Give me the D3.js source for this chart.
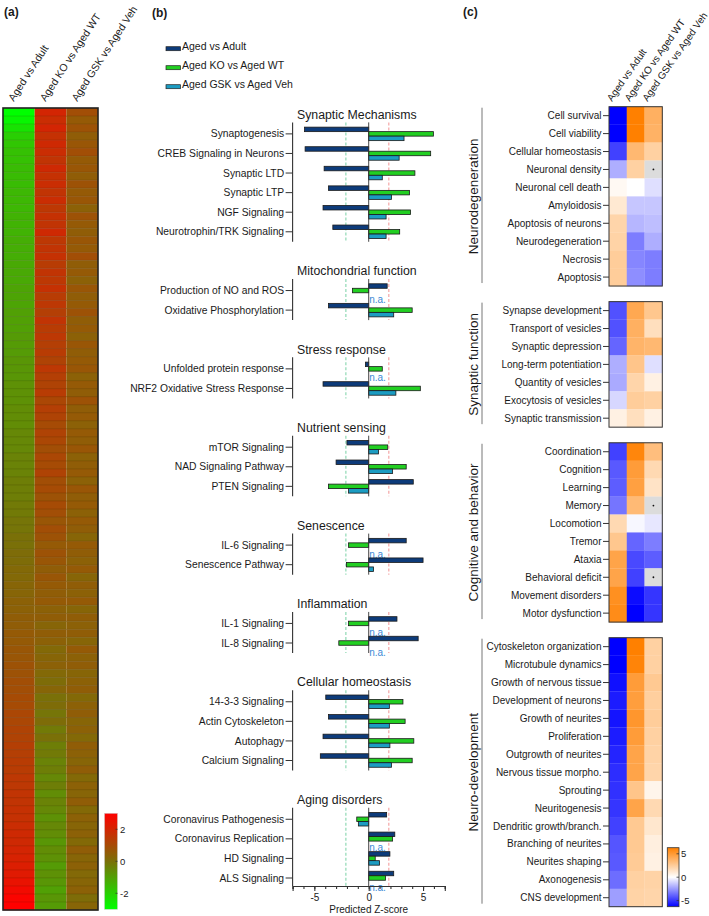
<!DOCTYPE html>
<html><head><meta charset="utf-8">
<script src="https://cdn.jsdelivr.net/npm/d3@7"></script>
<style>
body{margin:0;background:#fff;}
svg text{font-family:"Liberation Sans",Arial,Helvetica,sans-serif;fill:#1a1a1a;}
</style>
</head><body>
<svg id="chart" width="709" height="916"></svg>
<script>
// ================= DATA =================
// Panel (a): sorted heatmap of pathway z-scores (one value per row)
const aColumns = ["Aged vs Adult","Aged KO vs Aged WT","Aged GSK vs Aged Veh"];
const aAgedVsAdult = [
 -3.0,-2.8,-2.4,-2.0,-1.8,-1.7,-1.7,-1.6,-1.6,-1.6,
 -1.5,-1.5,-1.5,-1.4,-1.4,-1.4,-1.3,-1.3,-1.3,-1.2,
 -1.2,-1.2,-1.1,-1.1,-1.1,-1.0,-1.0,-1.0,-0.9,-0.9,
 -0.9,-0.8,-0.8,-0.8,-0.7,-0.7,-0.7,-0.6,-0.6,-0.6,
 -0.5,-0.5,-0.5,-0.4,-0.4,-0.4,-0.3,-0.3,-0.3,-0.2,
 -0.2,-0.1,-0.1,0.0,0.0,0.1,0.1,0.2,0.2,0.3,
 0.3,0.4,0.4,0.5,0.5,0.6,0.6,0.7,0.7,0.8,
 0.8,0.9,0.9,1.0,1.0,1.1,1.1,1.2,1.2,1.3,
 1.3,1.4,1.4,1.5,1.5,1.6,1.6,1.7,1.7,1.8,
 1.9,1.9,2.0,2.1,2.2,2.3,2.5,2.7,2.9,3.0];
const aKOvsWT = [
 2.0,1.8,2.0,1.7,1.9,1.8,1.6,1.9,1.7,1.8,
 1.6,1.8,1.5,1.7,1.6,1.9,1.5,1.6,1.7,1.4,
 1.6,1.5,1.7,1.4,1.5,1.3,1.6,1.4,1.5,1.3,
 1.4,1.2,1.5,1.3,1.2,1.4,1.1,1.3,1.2,1.0,
 1.2,1.1,0.9,1.1,1.0,1.2,0.9,1.0,0.8,1.0,
 0.9,0.7,0.9,0.8,0.6,0.8,0.7,0.5,0.7,0.6,
 0.5,0.6,0.4,0.5,0.3,0.5,0.4,0.2,0.3,0.4,
 0.2,0.1,0.3,0.0,0.1,-0.1,0.1,-0.2,0.0,-0.3,
 -0.2,-0.4,-0.3,-0.5,-0.3,-0.6,-0.4,-0.5,-0.7,-0.5,
 -0.6,-0.8,-0.6,-0.7,-0.9,-0.7,-0.8,-1.0,-0.8,-0.9];
const aGSKvsVeh = [
 0.9,0.6,0.8,0.5,0.7,0.9,0.6,0.7,0.5,0.8,
 0.6,0.7,0.4,0.8,0.6,0.5,0.7,0.6,0.9,0.5,
 0.6,0.4,0.7,0.5,0.6,0.8,0.5,0.6,0.4,0.7,
 0.5,0.6,0.7,0.4,0.6,0.5,0.8,0.5,0.6,0.4,
 0.6,0.5,0.7,0.4,0.5,0.6,0.4,0.7,0.5,0.6,
 0.4,0.6,0.5,0.3,0.6,0.5,0.4,0.6,0.3,0.5,
 0.4,0.6,0.3,0.5,0.4,0.5,0.3,0.6,0.4,0.5,
 0.3,0.4,0.5,0.2,0.4,0.5,0.3,0.4,0.2,0.5,
 0.4,0.3,0.5,0.2,0.4,0.3,0.5,0.2,0.4,0.3,
 0.4,0.2,0.5,0.3,0.4,0.2,0.3,0.4,0.1,0.3];
const aColorTicks = [2, 0, -2];

// Panel (b): predicted z-scores of canonical pathways
const bSeries = ["Aged vs Adult","Aged KO vs Aged WT","Aged GSK vs Aged Veh"];
const bSections = ["Synaptic Mechanisms","Mitochondrial function","Stress response","Nutrient sensing",
  "Senescence","Inflammation","Cellular homeostasis","Aging disorders"];
const bPathways = ["Synaptogenesis","CREB Signaling in Neurons","Synaptic LTD","Synaptic LTP","NGF Signaling",
  "Neurotrophin/TRK Signaling","Production of NO and ROS","Oxidative Phosphorylation","Unfolded protein response",
  "NRF2 Oxidative Stress Response","mTOR Signaling","NAD Signaling Pathway","PTEN Signaling","IL-6 Signaling",
  "Senescence Pathway","IL-1 Signaling","IL-8 Signaling","14-3-3 Signaling","Actin Cytoskeleton","Autophagy",
  "Calcium Signaling","Coronavirus Pathogenesis","Coronavirus Replication","HD Signaling","ALS Signaling"];
const bSectionOf = [0,0,0,0,0,0,1,1,2,2,3,3,3,4,4,5,5,6,6,6,6,7,7,7,7];
const bAgedVsAdult = [-5.9,-5.85,-4.1,-3.7,-4.2,-3.3, 1.7,-3.7, -0.3,-4.2, -2.0,-3.0,4.1, 3.45,5.0,
  2.6,4.55, -3.95,-3.7,-4.2,-4.45, 1.65,2.4,1.95,2.3];
const bKOvsWT = [5.95,5.7,4.25,3.75,3.85,2.85, -1.5,4.0, 1.25,4.75, 1.75,3.45,-3.7, -1.85,-2.05,
  -1.85,-2.75, 3.15,3.35,4.15,4.0, -1.1,2.2,0.6,1.55];
const bGSKvsVeh = [3.25,2.8,1.25,2.1,1.6,1.6, null,2.3, null,2.5, 0.9,2.2,-1.85, null,0.45,
  null,null, 1.9,1.9,1.95,2.1, -0.95,null,1.0,null];
const bThresholds = [-2.1, 1.85];
const bMajorTicks = [-5, 0, 5];
const bMinorTicks = [-7,-6,-5,-4,-3,-2,-1,0,1,2,3,4,5,6,7];

// Panel (c): predicted activation of diseases & functions
const cColumns = ["Aged vs Adult","Aged KO vs Aged WT","Aged GSK vs Aged Veh"];
const cGroups = ["Neurodegeneration","Synaptic function","Cognitive and behavior","Neuro-development"];
const cFunctions = ["Cell survival","Cell viability","Cellular homeostasis","Neuronal density","Neuronal cell death",
  "Amyloidosis","Apoptosis of neurons","Neurodegeneration","Necrosis","Apoptosis",
  "Synapse development","Transport of vesicles","Synaptic depression","Long-term potentiation",
  "Quantity of vesicles","Exocytosis of vesicles","Synaptic transmission",
  "Coordination","Cognition","Learning","Memory","Locomotion","Tremor","Ataxia","Behavioral deficit",
  "Movement disorders","Motor dysfunction",
  "Cytoskeleton organization","Microtubule dynamics","Growth of nervous tissue","Development of neurons",
  "Growth of neurites","Proliferation","Outgrowth of neurites","Nervous tissue morpho.","Sprouting",
  "Neuritogenesis","Dendritic growth/branch.","Branching of neurites","Neurites shaping","Axonogenesis",
  "CNS development"];
const cGroupOf = [0,0,0,0,0,0,0,0,0,0, 1,1,1,1,1,1,1, 2,2,2,2,2,2,2,2,2,2,
  3,3,3,3,3,3,3,3,3,3,3,3,3,3,3];
const cAgedVsAdult = [-6.3,-6.3,-4.7,-2.0,0.3,1.1,2.1,2.2,2.5,2.5,
  -4.3,-4.3,-3.8,-2.0,-2.1,-1.0,0.7,
  -4.7,-4.1,-4.0,-3.4,1.9,2.8,4.5,4.5,5.5,5.7,
  -6.3,-6.3,-5.9,-5.6,-5.8,-5.6,-5.4,-5.2,-5.1,-5.0,-4.7,-4.2,-4.1,-3.6,-2.4];
const cKOvsWT = [6.3,6.3,3.5,2.3,0.0,-1.4,-1.8,-3.2,-3.0,-2.8,
  4.3,3.9,3.7,2.9,2.1,2.5,1.6,
  6.0,4.9,4.7,3.4,-0.2,-3.8,-4.5,-4.7,-6.0,-6.3,
  6.3,6.1,4.9,4.8,5.2,4.9,4.5,4.5,2.9,4.5,2.7,2.7,2.6,2.3,2.2];
const cGSKvsVeh = [3.9,3.8,2.3,null,-0.8,-1.4,-1.6,-2.0,-3.2,-3.2,
  2.8,1.6,3.5,-0.8,0.7,2.3,0.7,
  3.2,1.9,1.4,null,-0.6,-3.2,-4.0,null,-5.0,-5.0,
  2.3,2.3,2.7,2.4,2.5,2.3,2.2,2.1,0.5,1.9,1.2,0.8,0.7,2.2,2.1];
const cColorTicks = [5, 0, -5];

// ================= DRAWING =================
const svg = d3.select("#chart");
const defs = svg.append("defs");

// panel letters
[["(a)",4,16],["(b)",152,17],["(c)",463,16]].forEach(([t,x,y]) =>
  svg.append("text").attr("x",x).attr("y",y).attr("font-size","12px").attr("font-weight","bold").text(t));

// ---------- Panel (a)
const aX = d3.scaleBand().domain(aColumns).range([3, 98]);
const aY = d3.scaleBand().domain(d3.range(aAgedVsAdult.length)).range([108, 910]);
const aColor = d3.scaleLinear().domain([-3, 0, 3]).range(["#00ff00", "#7a7008", "#ff0000"]).clamp(true);
const gA = svg.append("g");
[aAgedVsAdult, aKOvsWT, aGSKvsVeh].forEach((vals, ci) => {
  gA.append("g").selectAll("rect").data(vals).join("rect")
    .attr("x", aX(aColumns[ci])).attr("width", aX.bandwidth())
    .attr("y", (d, i) => aY(i)).attr("height", aY.bandwidth() + 0.3)
    .attr("fill", d => aColor(d));
});
gA.append("g").selectAll("line").data(d3.range(1, aAgedVsAdult.length)).join("line")
  .attr("x1", 3).attr("x2", 98).attr("y1", i => aY(i)).attr("y2", i => aY(i))
  .attr("stroke", "rgba(40,30,0,0.22)").attr("stroke-width", 0.7);
gA.append("rect").attr("x", 3).attr("y", 108).attr("width", 95).attr("height", 802)
  .attr("fill", "none").attr("stroke", "#222").attr("stroke-width", 1.6);
gA.append("g").selectAll("text").data(aColumns).join("text")
  .attr("transform", d => `translate(${aX(d) + aX.bandwidth() / 2 - 5},102) rotate(-57)`)
  .attr("font-size", "10.5px").text(d => d);
// colorbar (a)
const aCbY = d3.scaleLinear().domain([-3, 3]).range([909.3, 813.3]);
const gradA = defs.append("linearGradient").attr("id", "gradA").attr("x1", 0).attr("y1", 1).attr("x2", 0).attr("y2", 0);
aColor.domain().forEach((v, i) => gradA.append("stop").attr("offset", (v + 3) / 6).attr("stop-color", aColor.range()[i]));
svg.append("rect").attr("x", 104.5).attr("y", aCbY(3)).attr("width", 13).attr("height", aCbY(-3) - aCbY(3))
  .attr("fill", "url(#gradA)").attr("stroke", "#ccc").attr("stroke-width", 0.5);
const gCbA = svg.append("g");
gCbA.selectAll("line").data(aColorTicks).join("line")
  .attr("x1", 115.5).attr("x2", 117.5).attr("y1", d => aCbY(d)).attr("y2", d => aCbY(d))
  .attr("stroke", "#333").attr("stroke-width", 0.8);
gCbA.selectAll("text").data(aColorTicks).join("text")
  .attr("x", 120).attr("y", d => aCbY(d)).attr("dy", "0.35em").attr("font-size", "9.5px").text(d => d);

// ---------- Panel (b)
const bColors = ["#0d3b7a", "#22cf22", "#1c9cc2"];
const legY = d3.scalePoint().domain(bSeries).range([50, 88]);
const gLeg = svg.append("g");
bSeries.forEach((s, k) => {
  gLeg.append("rect").attr("x", 166).attr("y", legY(s) - 3.3).attr("width", 14.5).attr("height", 4)
    .attr("fill", bColors[k]).attr("stroke", "#222").attr("stroke-width", 0.7);
  gLeg.append("text").attr("x", 182).attr("y", legY(s)).attr("font-size", "10.5px").text(s);
});

const xB = d3.scaleLinear().domain([-7, 7]).range([292.6, 444.8]);
const slots = [];
bSections.forEach((s, si) => {
  slots.push({ kind: "title", si });
  bPathways.forEach((p, pi) => { if (bSectionOf[pi] === si) slots.push({ kind: "cat", si, pi }); });
  if (si < bSections.length - 1) slots.push({ kind: "gap", si });
});
const yB = d3.scalePoint().domain(d3.range(slots.length)).range([114.3, 878]);
slots.forEach((s, i) => s.y = yB(i));
const axisYB = yB(slots.length - 1) + 8;
const bVals = [bAgedVsAdult, bKOvsWT, bGSKvsVeh];
const barH = 4.5;
const gB = svg.append("g");

bSections.forEach((sec, si) => {
  const title = slots.find(s => s.kind === "title" && s.si === si);
  const cats = slots.filter(s => s.kind === "cat" && s.si === si);
  const top = cats[0].y - 11.5;
  const bottom = si === bSections.length - 1 ? axisYB : cats[cats.length - 1].y + 10;
  const g = gB.append("g");
  g.append("text").attr("x", 297).attr("y", title.y).attr("dy", "0.35em").attr("font-size", "12.3px").text(sec);
  // threshold dashed lines
  g.selectAll("line.th").data(bThresholds).join("line").attr("class", "th")
    .attr("x1", d => xB(d)).attr("x2", d => xB(d)).attr("y1", top).attr("y2", bottom)
    .attr("stroke", (d, i) => i === 0 ? "#8fd9b4" : "#f4a5a5").attr("stroke-width", 1.2)
    .attr("stroke-dasharray", "3,2");
  // bars
  cats.forEach(c => {
    bVals.forEach((vals, k) => {
      const v = vals[c.pi];
      const y0 = c.y - 1.5 * barH + k * barH;
      if (v === null) {
        g.append("text").attr("x", xB(0) + 0.5).attr("y", y0 + barH / 2 + 1).attr("dy", "0.7em")
          .attr("font-size", "10px").style("fill", "#3d8ad6").text("n.a.");
      } else {
        g.append("rect").attr("x", xB(Math.min(0, v))).attr("y", y0)
          .attr("width", Math.abs(xB(v) - xB(0))).attr("height", barH)
          .attr("fill", bColors[k]).attr("stroke", "#1a1a1a").attr("stroke-width", 0.8);
      }
    });
  });
  // zero line
  g.append("line").attr("x1", xB(0)).attr("x2", xB(0)).attr("y1", top).attr("y2", bottom)
    .attr("stroke", "#333").attr("stroke-width", 0.9);
  // y axis segment
  g.append("line").attr("x1", xB(-7)).attr("x2", xB(-7)).attr("y1", top).attr("y2", bottom)
    .attr("stroke", "#333").attr("stroke-width", 1.1);
  g.selectAll("line.tk").data(cats).join("line").attr("class", "tk")
    .attr("x1", xB(-7) - 7).attr("x2", xB(-7)).attr("y1", d => d.y).attr("y2", d => d.y)
    .attr("stroke", "#333").attr("stroke-width", 1);
  g.selectAll("text.lab").data(cats).join("text").attr("class", "lab")
    .attr("x", xB(-7) - 8.5).attr("y", d => d.y).attr("dy", "0.35em").attr("text-anchor", "end")
    .attr("font-size", "10.3px").text(d => bPathways[d.pi]);
});
// x axis
const gXA = svg.append("g").attr("transform", `translate(0,${axisYB})`);
gXA.call(d3.axisBottom(xB).tickValues(bMinorTicks).tickSize(3).tickFormat(""));
gXA.append("g").call(d3.axisBottom(xB).tickValues(bMajorTicks).tickSize(5).tickFormat(d => String(d)));
gXA.selectAll("path,line").attr("stroke", "#333").attr("stroke-width", 1.1);
gXA.selectAll("text").attr("font-size", "10px").style("fill", "#1a1a1a")
  .style("font-family", '"Liberation Sans",Arial,sans-serif');
svg.append("text").attr("x", xB(0)).attr("y", 913).attr("text-anchor", "middle")
  .attr("font-size", "10px").text("Predicted Z-score");

// ---------- Panel (c)
const cX = d3.scaleBand().domain(cColumns).range([609, 662.3]);
const units = []; let u = 0;
cFunctions.forEach((f, i) => { if (i > 0 && cGroupOf[i] !== cGroupOf[i - 1]) u += 0.87; units.push(u); u += 1; });
const cY = d3.scaleLinear().domain([0, u]).range([106.7, 906.7]);
const rowH = cY(1) - cY(0);
const cColor = d3.scaleLinear().domain([-6.3, 0, 6.3]).range(["#0000ff", "#ffffff", "#ff8000"]).clamp(true);
const gC = svg.append("g");
[cAgedVsAdult, cKOvsWT, cGSKvsVeh].forEach((vals, ci) => {
  const g = gC.append("g");
  g.selectAll("rect").data(vals).join("rect")
    .attr("x", cX(cColumns[ci])).attr("width", cX.bandwidth() + 0.2)
    .attr("y", (d, i) => cY(units[i])).attr("height", rowH + 0.2)
    .attr("fill", d => d === null ? "#dcdcdc" : cColor(d));
  g.selectAll("circle").data(vals.map((d, i) => ({ d, i })).filter(o => o.d === null)).join("circle")
    .attr("cx", cX(cColumns[ci]) + cX.bandwidth() / 2).attr("cy", o => cY(units[o.i] + 0.5))
    .attr("r", 0.9).attr("fill", "#111");
});
cGroups.forEach((grp, gi) => {
  const idx = cFunctions.map((f, i) => i).filter(i => cGroupOf[i] === gi);
  const top = cY(units[idx[0]]), bot = cY(units[idx[idx.length - 1]] + 1);
  gC.append("rect").attr("x", 609).attr("y", top).attr("width", 662.3 - 609).attr("height", bot - top)
    .attr("fill", "none").attr("stroke", "#333").attr("stroke-width", 1);
  gC.append("line").attr("x1", 482).attr("x2", 482).attr("y1", top + 1).attr("y2", bot - 3)
    .attr("stroke", "#777").attr("stroke-width", 1);
  gC.append("text").attr("transform", `translate(477.5,${(top + bot) / 2}) rotate(-90)`)
    .attr("text-anchor", "middle").attr("font-size", "13.5px").text(grp);
});
gC.append("g").selectAll("line").data(cFunctions).join("line")
  .attr("x1", 603).attr("x2", 609).attr("y1", (d, i) => cY(units[i] + 0.5)).attr("y2", (d, i) => cY(units[i] + 0.5))
  .attr("stroke", "#333").attr("stroke-width", 1);
gC.append("g").selectAll("text").data(cFunctions).join("text")
  .attr("x", 601.5).attr("y", (d, i) => cY(units[i] + 0.5)).attr("dy", "0.35em")
  .attr("text-anchor", "end").attr("font-size", "10px").text(d => d);
gC.append("g").selectAll("text").data(cColumns).join("text")
  .attr("transform", d => `translate(${cX(d) + cX.bandwidth() / 2 - 6},102) rotate(-55)`)
  .attr("font-size", "10px").text(d => d);
// colorbar (c)
const cCbY = d3.scaleLinear().domain([-6.3, 6.3]).range([906.7, 847.7]);
const gradC = defs.append("linearGradient").attr("id", "gradC").attr("x1", 0).attr("y1", 1).attr("x2", 0).attr("y2", 0);
cColor.domain().forEach((v, i) => gradC.append("stop").attr("offset", (v + 6.3) / 12.6).attr("stop-color", cColor.range()[i]));
svg.append("rect").attr("x", 667.3).attr("y", cCbY(6.3)).attr("width", 11.7).attr("height", cCbY(-6.3) - cCbY(6.3))
  .attr("fill", "url(#gradC)").attr("stroke", "#333").attr("stroke-width", 0.8);
const gCbC = svg.append("g");
gCbC.selectAll("line").data(cColorTicks).join("line")
  .attr("x1", 676.5).attr("x2", 679).attr("y1", d => cCbY(d)).attr("y2", d => cCbY(d))
  .attr("stroke", "#333").attr("stroke-width", 0.8);
gCbC.selectAll("text").data(cColorTicks).join("text")
  .attr("x", 681).attr("y", d => cCbY(d)).attr("dy", "0.35em").attr("font-size", "9.5px").text(d => d);
</script>
</body></html>
